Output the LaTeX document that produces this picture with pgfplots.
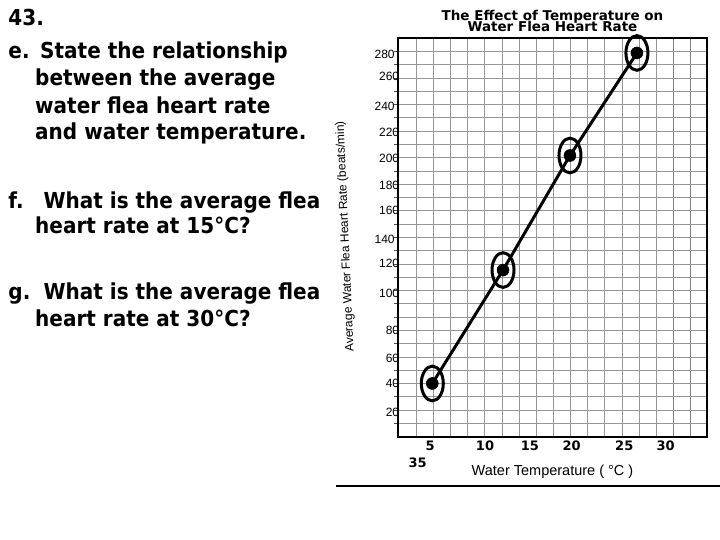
\documentclass[border=0pt]{standalone}
\usepackage{fontspec}
\setmainfont{Liberation Sans}
\newfontfamily\qfont[FakeStretch=0.91]{DejaVu Sans}
\newfontfamily\djv{DejaVu Sans}
\usepackage{pgfplots}
\pgfplotsset{compat=1.18}
\definecolor{gridgray}{RGB}{150,150,150}
\newcommand{\sk}{\kern-4.5bp}
\begin{document}
\begin{tikzpicture}
\useasboundingbox (0bp,0bp) rectangle (720bp,540bp);
\tikzset{q/.style={anchor=base west, inner sep=0pt, font=\qfont\bfseries\fontsize{22bp}{26bp}\selectfont}}
\node[q] at (8.3bp,514bp) {43.};
\node[q] at (8.3bp,481.7bp) {e.};
\node[q] at (40bp,481.7bp) {State the relationship};
\node[q] at (35bp,454bp) {between the average};
\node[q] at (35bp,426.7bp) {water flea heart rate};
\node[q] at (35bp,400bp) {and water temperature.};
\node[q] at (8.3bp,331.7bp) {f.};
\node[q] at (43.3bp,331.7bp) {What is the average flea};
\node[q] at (35bp,306bp) {heart rate at 15°C?};
\node[q] at (8.3bp,240bp) {g.};
\node[q] at (43.3bp,240bp) {What is the average flea};
\node[q] at (35bp,213.3bp) {heart rate at 30°C?};
% title
\node[anchor=base, inner sep=0pt, font=\djv\bfseries\fontsize{13.5bp}{14bp}\selectfont] at (552.5bp,519.5bp) {The Effect of Temperature on};
\node[anchor=base, inner sep=0pt, font=\djv\bfseries\fontsize{13.5bp}{14bp}\selectfont] at (552.5bp,508.3bp) {Water Flea Heart Rate};
% axis labels
\node[rotate=92.5, inner sep=0pt, font=\fontsize{12bp}{13bp}\selectfont] at (345.5bp,303.5bp) {Average Water Flea Heart Rate (beats/min)};
\node[anchor=base, inner sep=0pt, font=\fontsize{14.5bp}{15bp}\selectfont] at (552.5bp,64bp) {Water Temperature ( °C )};
\node[inner sep=0pt, font=\djv\bfseries\fontsize{13bp}{14bp}\selectfont] at (417.7bp,77.7bp) {35};
\begin{axis}[
 at={(398.3bp,103.3bp)}, anchor=south west, scale only axis,
 width=308.4bp, height=398.4bp,
 xmin=1.395, xmax=34.1, ymin=1.3, ymax=291.05,
 clip=false,
 axis line style={line width=2bp, black},
 xtick={3.318,5.134,6.951,8.767,10.584,12.401,14.217,16.034,17.850,19.667,21.484,23.300,25.117,26.933,28.750},
 minor xtick={30.567,32.383},
 xticklabels={},
 ytick={10.958,20.616,30.274,39.932,49.59,59.248,68.906,78.564,88.222,97.88,107.538,117.196,126.854,136.512,146.17,155.828,165.486,175.144,184.802,194.46,204.118,213.776,223.434,233.092,242.75,252.408,262.066,271.724,281.382},
 yticklabels={},
 xmajorgrids, xminorgrids, ymajorgrids,
 major grid style={gridgray, line width=1bp},
 minor grid style={gridgray!85!black, line width=1.6bp},
 tick align=outside,
 xtick pos=bottom, ytick pos=left,
 major tick length=4bp, minor tick length=0pt,
 xtick style={draw=none},
 ytick style={black!70, line width=1bp},
 extra x ticks={4.76,10.59,15.36,19.78,25.36,29.75},
 extra x tick labels={5,10,15,20,25,30},
 extra x tick style={grid=none, major tick length=0pt},
 extra y ticks={18.8,40.1,58.3,78.9,105.6,127.4,145.1,166.2,184.4,203.8,222.4,241.3,263.6,279.6},
 extra y tick labels={20\sk,40\sk,60\sk,80\sk,100\sk,120\sk,140,160\sk,180\sk,200\sk,220\sk,240,260\sk,280},
 extra y tick style={grid=none, major tick length=0pt},
 xticklabel style={font=\djv\bfseries\fontsize{13bp}{14bp}\selectfont, inner sep=0pt, anchor=north, yshift=-3.7bp},
 yticklabel style={font=\fontsize{12bp}{13bp}\selectfont, inner sep=0pt, anchor=east, xshift=-3.5bp},
]
\addplot[black, line width=3bp, mark=*, mark size=6bp, mark options={solid, line width=0.5bp, fill=black}] coordinates {(5,40) (12.5,122.5) (19.6,205.8) (26.7,280.4)};
\addplot[only marks, mark=o, mark size=17.35bp, mark options={xscale=0.634, line width=3bp, black}] coordinates {(5,40) (12.5,122.5) (19.6,205.8) (26.7,280.4)};
\end{axis}
\draw[line width=2bp] (336bp,54bp) -- (720bp,54bp);
\end{tikzpicture}
\end{document}
